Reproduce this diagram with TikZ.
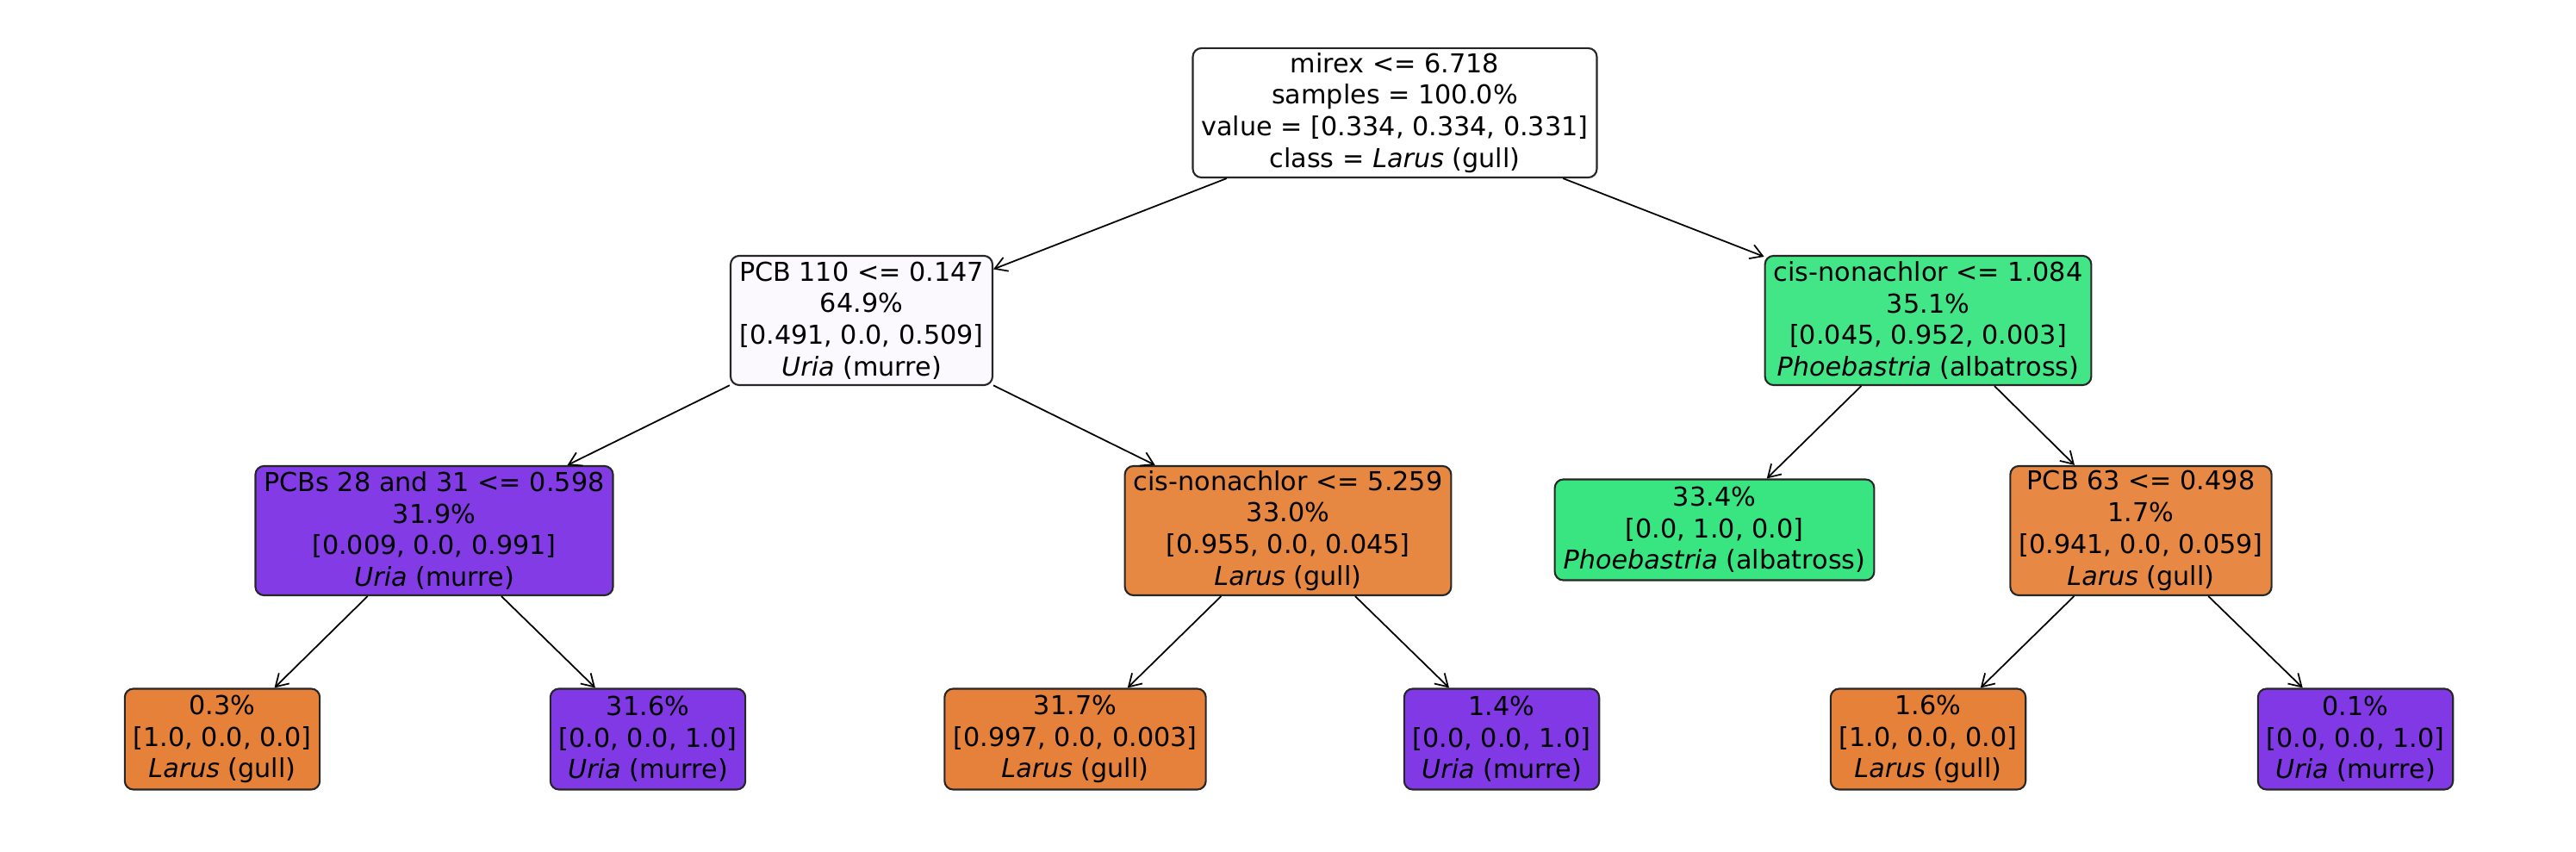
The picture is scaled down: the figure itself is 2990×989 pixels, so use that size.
\documentclass[tikz,border=0pt]{standalone}
\usepackage{fontspec}
\setmainfont{DejaVu Sans}
\usepackage{xcolor}
\usepackage{tikz}
\usetikzlibrary{arrows.meta,positioning}
\definecolor{larusFull}{HTML}{E58139}
\definecolor{larusA}{HTML}{E5813A}
\definecolor{larusB}{HTML}{E68742}
\definecolor{larusC}{HTML}{E78945}
\definecolor{phoebFull}{HTML}{39E581}
\definecolor{phoebA}{HTML}{43E687}
\definecolor{uriaFull}{HTML}{8139E5}
\definecolor{uriaA}{HTML}{823BE5}
\definecolor{uriaPale}{HTML}{FBF8FE}
\tikzset{
  split/.style={draw=black!85, line width=0.6pt, rounded corners=0.1cm, align=center,
    inner xsep=0.1cm, inner ysep=0pt, minimum height=1.5cm},
  leaf/.style={split, minimum height=1.17cm},
}
\begin{document}
\begin{tikzpicture}[x=0.01cm, y=-0.01cm, font=\fontsize{8.6pt}{10.45pt}\selectfont,
  >={Straight Barb[length=0.14cm, width=0.17cm]}]
\useasboundingbox (0,0) rectangle (2990,989);
% ---- depth 0 and 1 ----
\node[split, fill=white] (root) at (1619,131)
  {mirex <= 6.718\\samples = 100.0\%\\value = [0.334, 0.334, 0.331]\\class = \textit{Larus} (gull)};
\node[split, fill=uriaPale] (pcb110) at (1000,372)
  {PCB 110 <= 0.147\\64.9\%\\{[0.491, 0.0, 0.509]}\\\textit{Uria} (murre)};
\node[split, fill=phoebA] (cisA) at (2238,372)
  {cis-nonachlor <= 1.084\\35.1\%\\{[0.045, 0.952, 0.003]}\\\textit{Phoebastria} (albatross)};
% ---- depth 2 ----
\node[split, fill=uriaA] (pcb28) at (504,616)
  {PCBs 28 and 31 <= 0.598\\31.9\%\\{[0.009, 0.0, 0.991]}\\\textit{Uria} (murre)};
\node[split, fill=larusB] (cisB) at (1495,616)
  {cis-nonachlor <= 5.259\\33.0\%\\{[0.955, 0.0, 0.045]}\\\textit{Larus} (gull)};
\node[leaf, fill=phoebFull] (leaf334) at (1990,615)
  {33.4\%\\{[0.0, 1.0, 0.0]}\\\textit{Phoebastria} (albatross)};
\node[split, fill=larusC] (pcb63) at (2485,616)
  {PCB 63 <= 0.498\\1.7\%\\{[0.941, 0.0, 0.059]}\\\textit{Larus} (gull)};
% ---- depth 3 (leaves) ----
\node[leaf, fill=larusFull] (leaf03) at (258,858) {0.3\%\\{[1.0, 0.0, 0.0]}\\\textit{Larus} (gull)};
\node[leaf, fill=uriaFull] (leaf316) at (752,858) {31.6\%\\{[0.0, 0.0, 1.0]}\\\textit{Uria} (murre)};
\node[leaf, fill=larusA] (leaf317) at (1248,858) {31.7\%\\{[0.997, 0.0, 0.003]}\\\textit{Larus} (gull)};
\node[leaf, fill=uriaFull] (leaf14) at (1743,858) {1.4\%\\{[0.0, 0.0, 1.0]}\\\textit{Uria} (murre)};
\node[leaf, fill=larusFull] (leaf16) at (2238,858) {1.6\%\\{[1.0, 0.0, 0.0]}\\\textit{Larus} (gull)};
\node[leaf, fill=uriaFull] (leaf01) at (2734,858) {0.1\%\\{[0.0, 0.0, 1.0]}\\\textit{Uria} (murre)};
% ---- edges ----
\foreach \p/\c in {root/pcb110, root/cisA, pcb110/pcb28, pcb110/cisB, pcb28/leaf03, pcb28/leaf316,
  cisB/leaf317, cisB/leaf14, cisA/leaf334, cisA/pcb63, pcb63/leaf16, pcb63/leaf01}
  {\draw[->, line width=0.5pt] (\p) -- (\c);}
\end{tikzpicture}
\end{document}
